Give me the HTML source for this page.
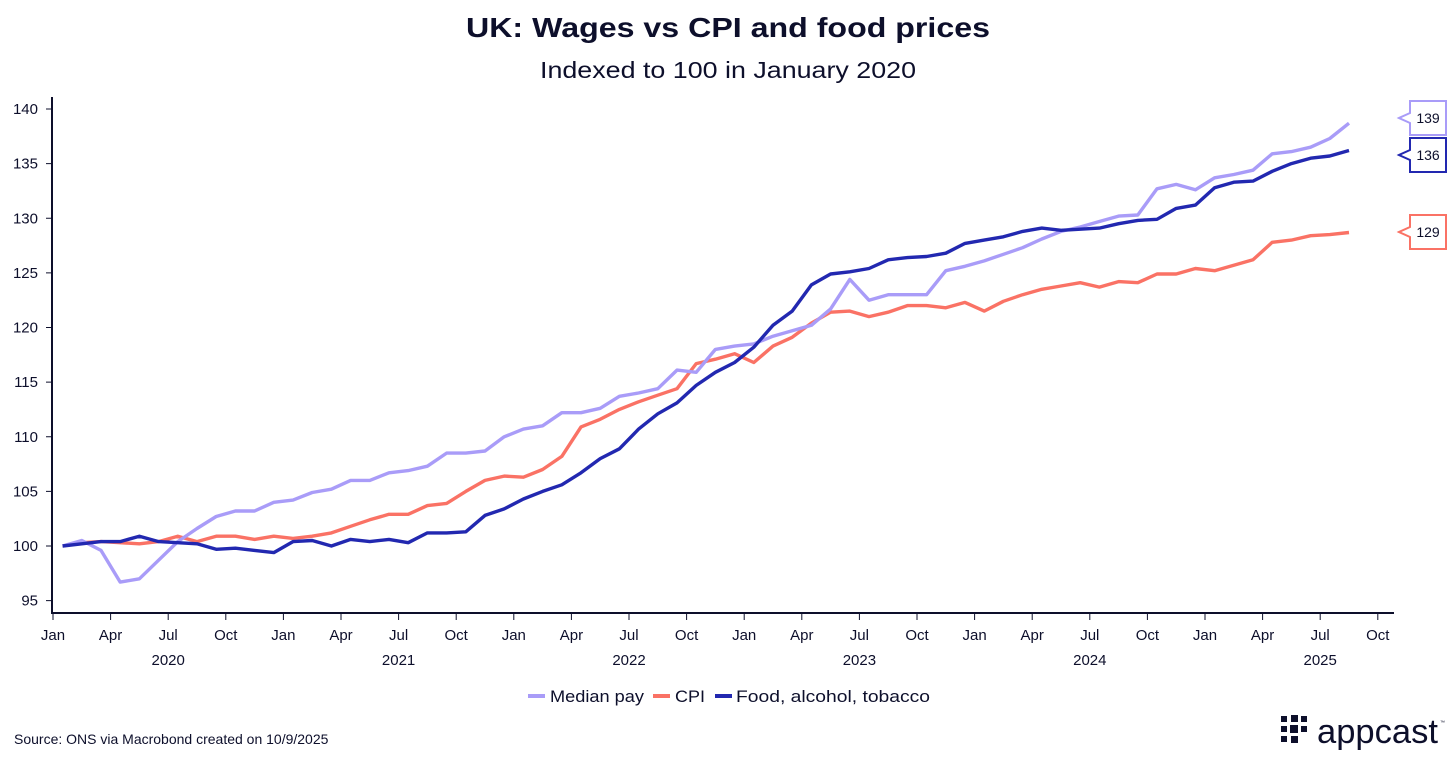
<!DOCTYPE html>
<html><head><meta charset="utf-8"><style>
body{margin:0;background:#fff;}
svg{display:block;font-family:"Liberation Sans",sans-serif;}
</style></head><body>
<svg id="chart" width="1456" height="761" viewBox="0 0 1456 761">
<text x="728" y="37" text-anchor="middle" font-size="28" font-weight="bold" fill="#0d0f2b" textLength="524" lengthAdjust="spacingAndGlyphs">UK: Wages vs CPI and food prices</text>
<text x="728" y="78" text-anchor="middle" font-size="23" fill="#0d0f2b" textLength="376" lengthAdjust="spacingAndGlyphs">Indexed to 100 in January 2020</text>
<g id="axes"></g>
<g id="series"></g>
<g id="tags"></g>
<g>
<line x1="528" y1="696" x2="545" y2="696" stroke="#a99cf8" stroke-width="4"/>
<text x="550" y="702" font-size="17" fill="#0d0f2b" textLength="94" lengthAdjust="spacingAndGlyphs">Median pay</text>
<line x1="653" y1="696" x2="670" y2="696" stroke="#fa7265" stroke-width="4"/>
<text x="675" y="702" font-size="17" fill="#0d0f2b" textLength="30" lengthAdjust="spacingAndGlyphs">CPI</text>
<line x1="715" y1="696" x2="732" y2="696" stroke="#2228b0" stroke-width="4"/>
<text x="736" y="702" font-size="17" fill="#0d0f2b" textLength="194" lengthAdjust="spacingAndGlyphs">Food, alcohol, tobacco</text>
</g>
<text x="14" y="744" font-size="14" fill="#0d0f2b">Source: ONS via Macrobond created on 10/9/2025</text>
<g fill="#0d0f2b">
<rect x="1281" y="716" width="6" height="6"/><rect x="1291" y="715" width="7" height="7"/><rect x="1301" y="716" width="6" height="6"/>
<rect x="1281" y="726" width="6" height="6"/><rect x="1290" y="725" width="8" height="8"/><rect x="1301" y="726" width="6" height="6"/>
<rect x="1281" y="736" width="6" height="6"/><rect x="1291" y="736" width="7" height="7"/>
<text x="1317" y="743" font-size="34" fill="#0d0f2b" textLength="121" lengthAdjust="spacingAndGlyphs">appcast</text>
<text x="1440" y="724" font-size="5" fill="#0d0f2b">™</text>
</g>
</svg>
<script>
const payValues=[100.0,100.5,99.6,96.7,97.0,98.7,100.4,101.6,102.7,103.2,103.2,104.0,104.2,104.9,105.2,106.0,106.0,106.7,106.9,107.3,108.5,108.5,108.7,110.0,110.7,111.0,112.2,112.2,112.6,113.7,114.0,114.4,116.1,115.9,118.0,118.3,118.5,119.2,119.7,120.2,121.7,124.4,122.5,123.0,123.0,123.0,125.2,125.6,126.1,126.7,127.3,128.1,128.8,129.2,129.7,130.2,130.3,132.7,133.1,132.6,133.7,134.0,134.4,135.9,136.1,136.5,137.3,138.7];
const cpiValues=[100,100.3,100.4,100.3,100.2,100.4,100.9,100.4,100.9,100.9,100.6,100.9,100.7,100.9,101.2,101.8,102.4,102.9,102.9,103.7,103.9,105.0,106.0,106.4,106.3,107.0,108.2,110.9,111.6,112.5,113.2,113.8,114.4,116.7,117.1,117.6,116.8,118.3,119.1,120.4,121.4,121.5,121.0,121.4,122.0,122.0,121.8,122.3,121.5,122.4,123.0,123.5,123.8,124.1,123.7,124.2,124.1,124.9,124.9,125.4,125.2,125.7,126.2,127.8,128.0,128.4,128.5,128.7];
const foodValues=[100,100.2,100.4,100.4,100.9,100.4,100.3,100.2,99.7,99.8,99.6,99.4,100.4,100.5,100.0,100.6,100.4,100.6,100.3,101.2,101.2,101.3,102.8,103.4,104.3,105.0,105.6,106.7,108.0,108.9,110.7,112.1,113.1,114.7,115.9,116.8,118.2,120.2,121.5,123.9,124.9,125.1,125.4,126.2,126.4,126.5,126.8,127.7,128.0,128.3,128.8,129.1,128.9,129.0,129.1,129.5,129.8,129.9,130.9,131.2,132.8,133.3,133.4,134.3,135.0,135.5,135.7,136.2];
const yTicks=[95,100,105,110,115,120,125,130,135,140];
const monthLabels=["Jan","Apr","Jul","Oct"];
const yearLabels=["2020","2021","2022","2023","2024","2025"];
const tagLabels=["139","136","129"];

const NS="http://www.w3.org/2000/svg";
const X0=53, MW=19.2;
function xMonth(m){return X0+m*MW;}
function xPoint(i){return X0+(i+0.5)*MW;}
function yVal(v){return 546-(v-100)*10.925;}
function mk(tag,attrs,parent){const e=document.createElementNS(NS,tag);for(const k in attrs)e.setAttribute(k,attrs[k]);parent.appendChild(e);return e;}

const axes=document.getElementById('axes');
const ya=mk('line',{x1:52,y1:97,x2:52,y2:614,stroke:'#0d0f2b','stroke-width':2},axes);


const xa=mk('line',{x1:51,y1:613,x2:1394,y2:613,stroke:'#0d0f2b','stroke-width':2},axes);


yTicks.forEach(v=>{
  const y=yVal(v);
  const t=mk('line',{x1:46,y1:y,x2:52,y2:y,stroke:'#0d0f2b','stroke-width':1},axes);
  
  
  const l=mk('text',{x:38,y:y+5,'text-anchor':'end','font-size':15,fill:'#0d0f2b'},axes);
  l.textContent=v;
  
  
});
for(let q=0;q<24;q++){
  const m=q*3, x=xMonth(m);
  const t=mk('line',{x1:x,y1:613,x2:x,y2:620,stroke:'#0d0f2b','stroke-width':1},axes);
  
  
  const l=mk('text',{x:x,y:640,'text-anchor':'middle','font-size':15,fill:'#0d0f2b'},axes);
  l.textContent=monthLabels[q%4];
  
  
}
yearLabels.forEach((yr,k)=>{
  const l=mk('text',{x:xMonth(k*12+6),y:665,'text-anchor':'middle','font-size':15,fill:'#0d0f2b'},axes);
  l.textContent=yr;
  
  
});

const series=document.getElementById('series');
function drawLine(vals,color,name){
  const d=vals.map((v,i)=>(i?'L':'M')+xPoint(i).toFixed(1)+','+yVal(v).toFixed(1)).join(' ');
  const p=mk('path',{d:d,fill:'none',stroke:color,'stroke-width':3.4,'stroke-linejoin':'round'},series);
  
  
}
drawLine(cpiValues,'#fa7265','cpi-line');
drawLine(payValues,'#a99cf8','median-pay-line');
drawLine(foodValues,'#2228b0','food-line');

const tags=document.getElementById('tags');
const tagColors=['#a99cf8','#2228b0','#fa7265'];
const tagY=[118,155,232];
const tagNames=['tag-median-pay','tag-food','tag-cpi'];
tagLabels.forEach((lab,k)=>{
  const cy=tagY[k];
  const g=mk('g',{},tags);
  
  
  mk('path',{d:`M1410,${cy-17} H1446 V${cy+17} H1410 V${cy+5} L1399,${cy} L1410,${cy-5} Z`,fill:'#fff',stroke:tagColors[k],'stroke-width':2},g);
  const t=mk('text',{x:1428,y:cy+5,'text-anchor':'middle','font-size':14,fill:'#0d0f2b'},g);
  t.textContent=lab;
});
</script>
</body></html>
